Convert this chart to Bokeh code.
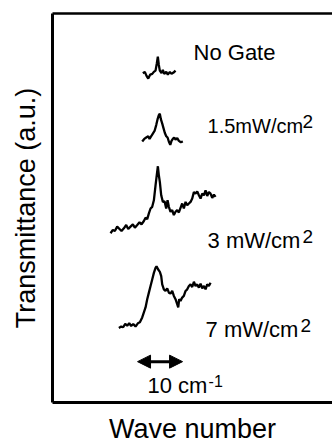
from bokeh.plotting import figure
from bokeh.models import LinearAxis, FixedTicker, Label, Arrow, NormalHead
from bokeh.embed import file_html
from bokeh.resources import INLINE

# ---- data (wave number in cm^-1, transmittance in a.u., traces vertically offset) ----
wn_nogate = [20.07, 20.51, 20.89, 21.27, 21.71, 22.16, 22.51, 22.89, 23.18, 23.40, 23.62,
             23.84, 24.22, 24.51, 24.82, 25.27, 25.62, 26.07, 26.44, 26.89, 27.33]
tr_nogate = [84.66, 84.99, 83.97, 83.28, 84.30, 84.48, 84.99, 85.32, 87.20, 88.88, 86.77,
             85.32, 84.66, 85.50, 84.48, 84.99, 84.30, 84.99, 84.48, 84.81, 85.32]

wn_15 = [19.93, 20.38, 20.82, 21.27, 21.56, 21.93, 22.29, 22.67, 23.04, 23.33, 23.62, 23.84,
         24.07, 24.38, 24.67, 24.96, 25.27, 25.56, 25.84, 26.16, 26.44, 26.73, 27.04, 27.33,
         27.71, 28.07, 28.51, 28.96]
tr_15 = [67.10, 67.76, 68.12, 68.45, 67.76, 68.45, 69.14, 69.80, 71.32, 72.77, 73.87, 74.22,
         72.85, 71.68, 70.48, 69.29, 68.45, 68.12, 67.10, 66.23, 67.25, 67.76, 68.12, 67.61,
         67.94, 67.25, 66.92, 67.10]

wn_3 = [12.89, 13.41, 13.85, 14.37, 14.89, 15.33, 15.85, 16.37, 16.82, 17.33, 17.85, 18.30,
        18.82, 19.33, 19.78, 20.30, 20.67, 21.04, 21.41, 21.78, 22.15, 22.52, 22.89, 23.11,
        23.41, 23.63, 23.85, 24.15, 24.52, 24.89, 25.26, 25.56, 25.85, 26.22, 26.59, 26.96,
        27.33, 27.70, 28.07, 28.44, 28.81, 29.18, 29.56, 29.93, 30.30, 30.67, 31.04, 31.41,
        31.78, 32.15, 32.52, 32.89, 33.26, 33.63, 34.00, 34.37, 34.74, 35.11, 35.48, 35.85,
        36.22]
tr_3 = [43.51, 44.36, 44.10, 45.21, 44.61, 44.10, 44.78, 45.63, 44.61, 45.21, 45.80, 44.95,
        45.63, 46.31, 45.80, 46.65, 47.50, 47.16, 48.60, 49.87, 50.30, 51.99, 55.81, 57.93,
        60.73, 58.35, 56.66, 53.27, 51.57, 51.74, 49.87, 51.99, 50.30, 49.03, 49.45, 48.18,
        49.03, 49.45, 48.85, 50.04, 51.15, 49.87, 51.57, 50.72, 51.15, 51.57, 52.42, 54.11,
        53.69, 54.28, 53.27, 52.42, 53.69, 53.27, 54.54, 53.10, 54.11, 53.69, 52.59, 53.44,
        52.84]

wn_7 = [14.74, 15.26, 15.70, 16.15, 16.59, 17.04, 17.48, 17.93, 18.44, 18.96, 19.41, 19.93,
        20.30, 20.67, 21.04, 21.41, 21.78, 22.15, 22.52, 22.89, 23.11, 23.48, 23.85, 24.15,
        24.37, 24.74, 25.11, 25.48, 25.85, 26.22, 26.59, 26.96, 27.33, 27.70, 27.93, 28.15,
        28.44, 28.81, 29.18, 29.56, 29.93, 30.30, 30.67, 31.04, 31.41, 31.78, 32.15, 32.52,
        32.89, 33.26, 33.63, 34.00, 34.37, 34.74, 35.11]
tr_7 = [19.17, 19.51, 19.34, 20.19, 19.76, 20.36, 19.68, 20.19, 19.51, 20.36, 20.61, 21.88,
        23.16, 24.43, 26.55, 28.24, 29.94, 31.64, 33.33, 34.61, 35.03, 34.18, 33.59, 32.49,
        30.36, 29.09, 28.67, 29.35, 28.24, 27.99, 28.67, 27.40, 26.55, 25.28, 24.43, 26.55,
        26.12, 26.97, 27.40, 28.67, 29.09, 29.94, 30.36, 29.69, 31.04, 29.94, 30.36, 29.52,
        30.53, 29.35, 29.94, 29.09, 30.36, 29.94, 30.79]

scale_bar = [18.89, 28.89]   # 10 cm^-1 scale bar

FONT = "Liberation Sans"

p = figure(width=332, height=446, x_range=(0, 62.2), y_range=(0, 100),
           output_backend="svg", toolbar_location=None,
           min_border_left=52, min_border_right=0, min_border_top=13, min_border_bottom=40)
p.outline_line_color = None
p.xgrid.visible = False
p.ygrid.visible = False
p.background_fill_color = "white"
p.border_fill_color = "white"


def style_axis(ax):
    ax.ticker = FixedTicker(ticks=[])
    ax.axis_line_width = 3
    ax.axis_line_color = "black"
    ax.major_tick_line_color = None
    ax.minor_tick_line_color = None
    ax.major_tick_out = 0
    ax.major_tick_in = 0
    ax.minor_tick_out = 0
    ax.minor_tick_in = 0
    ax.major_label_standoff = 0
    ax.major_label_text_font_size = "0px"


for ax in p.xaxis + p.yaxis:
    style_axis(ax)
    ax.axis_label_text_font = FONT
    ax.axis_label_text_font_size = "27px"
    ax.axis_label_text_font_style = "normal"
    ax.axis_label_text_color = "black"

p.xaxis.axis_label = "Wave number"
p.xaxis.axis_label_standoff = 11
p.yaxis.axis_label = "Transmittance (a.u.)"
p.yaxis.axis_label_standoff = 12

top = LinearAxis()
style_axis(top)
top.axis_line_width = 2.5
p.add_layout(top, "above")

for wn, tr in [(wn_nogate, tr_nogate), (wn_15, tr_15), (wn_3, tr_3), (wn_7, tr_7)]:
    p.line(wn, tr, line_color="black", line_width=2.3)

p.add_layout(Arrow(start=NormalHead(size=13, fill_color="black", line_color="black"),
                   end=NormalHead(size=13, fill_color="black", line_color="black"),
                   x_start=scale_bar[0], x_end=scale_bar[1], y_start=10.5, y_end=10.5,
                   line_width=3, line_color="black"))


def lab(x, y, text, size, **kw):
    p.add_layout(Label(x=x, y=y, text=text, text_font=FONT, text_font_size=f"{size}px",
                       text_color="black", text_baseline="alphabetic", **kw))


lab(31.33, 90.0, "No Gate", 22)
lab(34.44, 71.2, "1.5mW/cm", 20)
lab(55.56, 72.2, "2", 19)
lab(34.44, 41.7, "3 mW/cm", 22)
lab(55.56, 42.75, "2", 19)
lab(34.00, 18.83, "7 mW/cm", 22)
lab(55.10, 19.85, "2", 19)
lab(21.11, 4.3, "10 cm", 22)
lab(34.67, 5.6, "-1", 16)

open("out.html", "w").write(file_html(p, INLINE))
